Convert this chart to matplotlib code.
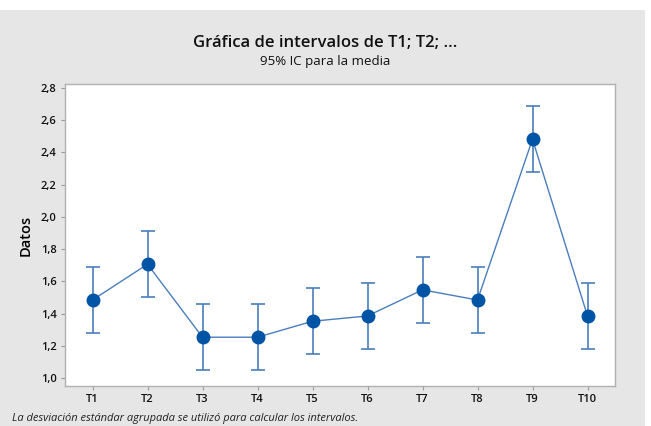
import matplotlib
matplotlib.use('Agg')
import matplotlib.pyplot as plt
from matplotlib.patches import Rectangle
from matplotlib.ticker import FixedLocator, FuncFormatter

# data
labels = ['T1', 'T2', 'T3', 'T4', 'T5', 'T6', 'T7', 'T8', 'T9', 'T10']
medias = [1.484, 1.706, 1.253, 1.253, 1.352, 1.385, 1.547, 1.484, 2.482, 1.385]
semi_ic = [0.205, 0.205, 0.205, 0.205, 0.205, 0.205, 0.205, 0.205, 0.205, 0.205]
yticks = [1.0, 1.2, 1.4, 1.6, 1.8, 2.0, 2.2, 2.4, 2.6, 2.8]

plt.rcParams['font.family'] = ['Open Sans', 'DejaVu Sans']

W, H = 651, 426
fig = plt.figure(figsize=(W/100, H/100), dpi=100, facecolor='white')
# grey background panel like minitab
fig.patches.append(Rectangle((0, 0), 645/W, 416/H, transform=fig.transFigure,
                             facecolor='#e6e6e6', edgecolor='none', zorder=-1))

ax = fig.add_axes([65/W, 1 - 386/H, (615-65)/W, (386-84)/H])
ax.set_facecolor('white')

x = list(range(1, len(labels) + 1))
ax.plot(x, medias, color='#4a7ebb', lw=1.0, zorder=2)
ax.errorbar(x, medias, yerr=semi_ic, fmt='none', ecolor='#4a7ebb',
            elinewidth=1.2, capsize=5, capthick=1.2, zorder=3)
ax.plot(x, medias, 'o', color='#0054a6', ms=9, zorder=4)

ax.set_xlim(0.5, 10.5)
ax.set_ylim(0.95, 2.825)
ax.set_xticks(x)
ax.set_xticklabels(labels)
ax.yaxis.set_major_locator(FixedLocator(yticks))
ax.yaxis.set_major_formatter(FuncFormatter(lambda v, p: f'{v:.1f}'.replace('.', ',')))
ax.tick_params(direction='out', length=3, width=0.8, color='#999999',
               labelsize=8, labelcolor='#111111', pad=3)
for lab in ax.get_xticklabels() + ax.get_yticklabels():
    lab.set_fontweight('semibold')
for s in ax.spines.values():
    s.set_color('#b0b0b0')
    s.set_linewidth(1.0)

ax.set_ylabel('Datos', fontsize=10.5, fontweight='semibold', labelpad=6)

fig.text(0.5, 1 - 43/H, 'Gráfica de intervalos de T1; T2; ...', ha='center', va='center',
         fontsize=12, fontweight='semibold', color='#111111')
fig.text(0.5, 1 - 61/H, '95% IC para la media', ha='center', va='center',
         fontsize=9.5, fontweight='medium', color='#111111')
fig.text(12/W, 1 - 419/H, 'La desviación estándar agrupada se utilizó para calcular los intervalos.',
         ha='left', va='center', fontsize=8, style='italic', color='#222222')

fig.savefig('out.png', dpi=100, facecolor=fig.get_facecolor())
